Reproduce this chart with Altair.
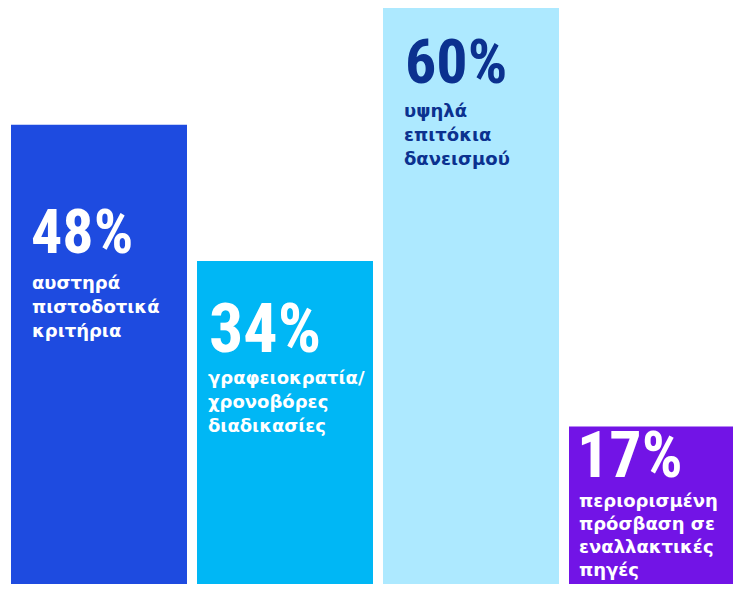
import altair as alt
import pandas as pd

categories = [
    "αυστηρά πιστοδοτικά κριτήρια",
    "γραφειοκρατία/χρονοβόρες διαδικασίες",
    "υψηλά επιτόκια δανεισμού",
    "περιορισμένη πρόσβαση σε εναλλακτικές πηγές",
]
values = [48, 34, 60, 17]
subtitles = [
    "αυστηρά\nπιστοδοτικά\nκριτήρια",
    "γραφειοκρατία/\nχρονοβόρες\nδιαδικασίες",
    "υψηλά\nεπιτόκια\nδανεισμού",
    "περιορισμένη\nπρόσβαση σε\nεναλλακτικές\nπηγές",
]

bar_colors = ["#1E4BE0", "#00B7F5", "#ADE9FF", "#7214E6"]
text_colors = ["#FFFFFF", "#FFFFFF", "#0B318F", "#FFFFFF"]

df = pd.DataFrame({"cat": categories, "value": values, "sub": subtitles})
df["label"] = df["value"].astype(str) + "%"

NUM_FONT = "'Roboto Condensed', Roboto, sans-serif"
SUB_FONT = "'DejaVu Sans', sans-serif"

# plot area is 725x576 (fits the page); scales run on past it like the cropped original
xscale = alt.Scale(range=[0, 740], paddingInner=10 / 186, paddingOuter=3 / 186)
yenc = alt.Y("value:Q", axis=None,
             scale=alt.Scale(domain=[0, 60], range=[584, 0], nice=False, zero=True))

bars = alt.Chart(df).mark_bar().encode(
    x=alt.X("cat:N", sort=categories, axis=None, scale=xscale),
    y=yenc,
    color=alt.Color("cat:N", scale=alt.Scale(domain=categories, range=bar_colors), legend=None),
)

num_sizes = [62, 68, 62, 64]
num_dx = [20, 12, 22, 8]
num_dy = [128, 91, 75, 50]
sub_dx = [21, 11, 21, 10]
sub_dy = [164, 123, 109, 80]
sub_lh = [24, 24, 24, 23]

layers = [bars]
for i, c in enumerate(categories):
    xt = alt.X("cat:N", sort=categories, axis=None, scale=xscale, bandPosition=0)
    num = alt.Chart(df).transform_filter(alt.datum.cat == c).mark_text(
        align="left", baseline="alphabetic", font=NUM_FONT, fontWeight="bold",
        fontSize=num_sizes[i], dx=num_dx[i], dy=num_dy[i], color=text_colors[i],
    ).encode(x=xt, y=yenc, text="label:N")
    sub = alt.Chart(df).transform_filter(alt.datum.cat == c).mark_text(
        align="left", baseline="alphabetic", font=SUB_FONT, fontWeight="bold",
        fontSize=18, lineHeight=sub_lh[i], lineBreak="\n", dx=sub_dx[i], dy=sub_dy[i],
        color=text_colors[i],
    ).encode(x=xt, y=yenc, text="sub:N")
    layers += [num, sub]

chart = alt.layer(*layers).properties(
    width=725, height=576, padding=0,
    autosize=alt.AutoSizeParams(type="none"),
).configure_view(stroke=None)

chart.save("out.html", embed_options={"renderer": "svg", "actions": False})
